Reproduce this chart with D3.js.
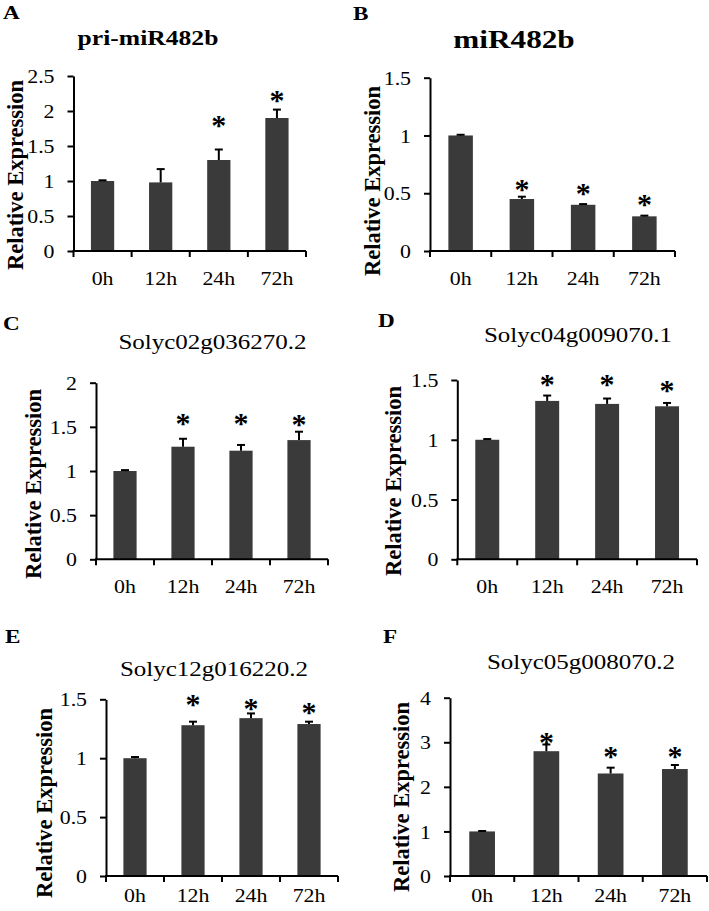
<!DOCTYPE html>
<html>
<head>
<meta charset="utf-8">
<script src="https://cdn.jsdelivr.net/npm/d3@7"></script>
<style>
  html, body { margin: 0; padding: 0; background: #fff; }
  svg { display: block; }
  text { font-family: "Liberation Serif", "Times New Roman", serif; fill: #000; }
</style>
</head>
<body>
<svg id="chart" width="709" height="911"></svg>
<script>
// ---------------- DATA ----------------
const categories = ["0h", "12h", "24h", "72h"];

const panelLetters = ["A", "B", "C", "D", "E", "F"];
const panelTitles = ["pri-miR482b", "miR482b", "Solyc02g036270.2", "Solyc04g009070.1", "Solyc12g016220.2", "Solyc05g008070.2"];
const yAxisLabel = "Relative Expression";

const priMiR482bValues = [1.00, 0.98, 1.30, 1.90];
const priMiR482bErrors = [0.01, 0.19, 0.15, 0.12];
const priMiR482bStars  = [null, null, 1.86, 2.21];

const miR482bValues = [1.00, 0.45, 0.40, 0.30];
const miR482bErrors = [0.006, 0.02, 0.006, 0.006];
const miR482bStars  = [null, 0.571, 0.536, 0.446];

const solyc02Values = [1.00, 1.275, 1.23, 1.35];
const solyc02Errors = [0.01, 0.09, 0.065, 0.095];
const solyc02Stars  = [null, 1.59, 1.59, 1.577];

const solyc04Values = [1.00, 1.325, 1.30, 1.28];
const solyc04Errors = [0.006, 0.045, 0.045, 0.028];
const solyc04Stars  = [null, 1.50, 1.50, 1.45];

const solyc12Values = [1.00, 1.28, 1.34, 1.29];
const solyc12Errors = [0.01, 0.03, 0.04, 0.02];
const solyc12Stars  = [null, 1.497, 1.46, 1.43];

const solyc05Values = [1.00, 2.80, 2.30, 2.40];
const solyc05Errors = [0.01, 0.15, 0.13, 0.09];
const solyc05Stars  = [null, 3.105, 2.79, 2.79];

const ticksA = [0, 0.5, 1, 1.5, 2, 2.5];
const ticksB = [0, 0.5, 1, 1.5];
const ticksC = [0, 0.5, 1, 1.5, 2];
const ticksD = [0, 0.5, 1, 1.5];
const ticksE = [0, 0.5, 1, 1.5];
const ticksF = [0, 1, 2, 3, 4];

const seriesValues = [priMiR482bValues, miR482bValues, solyc02Values, solyc04Values, solyc12Values, solyc05Values];
const seriesErrors = [priMiR482bErrors, miR482bErrors, solyc02Errors, solyc04Errors, solyc12Errors, solyc05Errors];
const seriesStars  = [priMiR482bStars, miR482bStars, solyc02Stars, solyc04Stars, solyc12Stars, solyc05Stars];
const seriesTicks  = [ticksA, ticksB, ticksC, ticksD, ticksE, ticksF];

// ---------------- LAYOUT ----------------
const layout = [
  { x0: 73.5, x1: 306, yTop: 76,    y0: 251,   letter: [3, 19],    title: [148, 45],  titleBold: true,  titleSize: 21, titleSx: 1.22, ylab: [15, 175],  xlabY: 285 },
  { x0: 430,  x1: 675, yTop: 77.7,  y0: 251,   letter: [353, 20],  title: [514, 48],  titleBold: true,  titleSize: 25, titleSx: 1.25, ylab: [372, 181], xlabY: 285 },
  { x0: 96,   x1: 328, yTop: 382.7, y0: 559.3, letter: [3, 330],   title: [212.5, 349], titleBold: false, titleSize: 20, titleSx: 1.25, ylab: [33, 484], xlabY: 593 },
  { x0: 457.3,x1: 697, yTop: 380,   y0: 559.3, letter: [378, 327], title: [578, 342], titleBold: false, titleSize: 20, titleSx: 1.25, ylab: [393, 481], xlabY: 593 },
  { x0: 106,  x1: 338, yTop: 699.3, y0: 876,   letter: [5, 643],   title: [214, 676], titleBold: false, titleSize: 20, titleSx: 1.25, ylab: [44, 803], xlabY: 902 },
  { x0: 450,  x1: 707, yTop: 697.7, y0: 876,   letter: [383, 643], title: [581, 669], titleBold: false, titleSize: 20, titleSx: 1.25, ylab: [401, 797], xlabY: 902 }
];

const SX = 1.12;          // horizontal stretch of the original figure text
const barColor = "#3a3a3a";
const tickFont = 19.5;
const starFont = 30;

const svg = d3.select("#chart");

function stretchedText(g, x, y, str, size, bold, anchor, sx) {
  return g.append("text")
    .attr("transform", `translate(${x},${y}) scale(${sx},1)`)
    .attr("text-anchor", anchor)
    .style("font-size", size + "px")
    .style("font-weight", bold ? "bold" : "normal")
    .text(str);
}

layout.forEach((L, p) => {
  const values = seriesValues[p], errors = seriesErrors[p], stars = seriesStars[p], ticks = seriesTicks[p];
  const g = svg.append("g");

  const x = d3.scaleBand().domain(categories).range([L.x0, L.x1]).paddingInner(0.6).paddingOuter(0.3);
  const y = d3.scaleLinear().domain([0, d3.max(ticks)]).range([L.y0, L.yTop]);

  // bars
  g.selectAll("rect.bar").data(categories).join("rect")
    .attr("class", "bar")
    .attr("x", d => x(d))
    .attr("width", x.bandwidth())
    .attr("y", (d, i) => y(values[i]))
    .attr("height", (d, i) => y(0) - y(values[i]))
    .attr("fill", barColor);

  // error bars (upper only)
  const capW = 4;
  categories.forEach((c, i) => {
    const cx = x(c) + x.bandwidth() / 2;
    const top = y(values[i] + errors[i]);
    g.append("line").attr("x1", cx).attr("x2", cx).attr("y1", y(values[i])).attr("y2", top)
      .attr("stroke", "#000").attr("stroke-width", 2);
    g.append("line").attr("x1", cx - capW).attr("x2", cx + capW).attr("y1", top).attr("y2", top)
      .attr("stroke", "#000").attr("stroke-width", 2);
  });

  // stars
  categories.forEach((c, i) => {
    if (stars[i] == null) return;
    const cx = x(c) + x.bandwidth() / 2;
    g.append("text")
      .attr("x", cx).attr("y", y(stars[i]) + 0.47 * starFont)
      .attr("text-anchor", "middle")
      .style("font-size", starFont + "px").style("font-weight", "bold")
      .text("*");
  });

  // y axis
  const yAxis = d3.axisLeft(y).tickValues(ticks).tickSize(6).tickSizeOuter(0).tickFormat(d3.format("~g"));
  const ya = g.append("g").attr("transform", `translate(${L.x0},0)`).call(yAxis);
  ya.select(".domain").attr("stroke", "#000").attr("stroke-width", 2);
  ya.selectAll(".tick line").attr("stroke", "#000").attr("stroke-width", 2);
  ya.selectAll(".tick text")
    .attr("x", 0).attr("dy", "0.34em")
    .attr("transform", `translate(-19,0) scale(${SX},1)`)
    .style("font-size", tickFont + "px")
    .style("font-family", "'Liberation Serif', serif")
    .attr("fill", "#000");

  // x axis
  const xa = g.append("g").attr("transform", `translate(0,${L.y0})`);
  xa.append("line").attr("x1", L.x0 - 1).attr("x2", L.x1).attr("y1", 0).attr("y2", 0)
    .attr("stroke", "#000").attr("stroke-width", 2);
  d3.range(categories.length + 1).forEach(k => {
    const bx = L.x0 + k * x.step();
    xa.append("line").attr("x1", bx).attr("x2", bx).attr("y1", 0).attr("y2", 6)
      .attr("stroke", "#000").attr("stroke-width", 2);
  });
  categories.forEach(c => {
    stretchedText(g, x(c) + x.bandwidth() / 2, L.xlabY, c, tickFont, false, "middle", SX);
  });

  // y label
  g.append("text")
    .attr("transform", `translate(${L.ylab[0]},${L.ylab[1]}) rotate(-90)`)
    .attr("text-anchor", "middle")
    .attr("dy", "0.35em")
    .style("font-size", "22.5px")
    .style("font-weight", "bold")
    .text(yAxisLabel);

  // title
  stretchedText(g, L.title[0], L.title[1], panelTitles[p], L.titleSize, L.titleBold, "middle", L.titleSx);

  // panel letter
  stretchedText(g, L.letter[0], L.letter[1], panelLetters[p], 19, true, "start", 1.22);
});
</script>
</body>
</html>
